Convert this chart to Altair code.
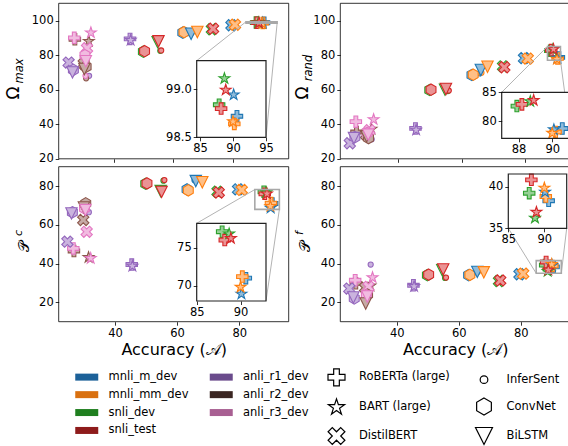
import math
import altair as alt
import pandas as pd

# ---------------- data ----------------
DATASETS = ["mnli_m_dev", "mnli_mm_dev", "snli_dev", "snli_test",
            "anli_r1_dev", "anli_r2_dev", "anli_r3_dev"]
MODELS = ["RoBERTa (large)", "BART (large)", "DistilBERT",
          "InferSent", "ConvNet", "BiLSTM"]
COLORS = ["#1f77b4", "#ff7f0e", "#2ca02c", "#d62728", "#9467bd", "#8c564b", "#e377c2"]
SWATCH = ["#1c6199", "#d9700f", "#1f7f1f", "#8e1b1b", "#6a4b8c", "#3b2622", "#a85f92"]

# accuracy per model, in DATASETS order
ACC_ROBERTA = [90.6, 90.2, 87.9, 88.2, 45.4, 26.8, 26.6]
ACC_BART = [90.1, 90.0, 88.7, 88.9, 45.6, 31.5, 32.2]
ACC_DISTIL = [79.6, 80.8, 73.0, 73.4, 24.7, 29.8, 30.9]
ACC_INFERSENT = [65.6, 66.2, 55.6, 55.9, 31.6, 30.6, 30.4]
ACC_CONVNET = [63.2, 63.6, 49.9, 50.3, 26.3, 30.6, 30.2]
ACC_BILSTM = [66.0, 68.1, 54.7, 55.0, 26.0, 30.0, 30.5]

OMAX_ROBERTA = [98.72, 98.64, 98.84, 98.80, 89.4, 89.2, 90.0]
OMAX_BART = [98.95, 98.67, 99.12, 99.0, 89.0, 88.4, 93.3]
OMAX_DISTIL = [97.3, 97.6, 95.0, 95.3, 75.7, 75.0, 84.0]
OMAX_INFERSENT = [92.6, 92.9, 82.5, 82.7, 68.0, 66.6, 68.0]
OMAX_CONVNET = [93.0, 93.3, 82.0, 82.3, 71.5, 73.3, 80.0]
OMAX_BILSTM = [92.4, 93.4, 87.5, 88.0, 70.0, 72.0, 76.5]

ORAND_ROBERTA = [78.7, 78.1, 82.6, 82.9, 37.6, 35.5, 41.5]
ORAND_BART = [78.6, 78.0, 83.5, 83.7, 37.0, 37.5, 43.1]
ORAND_DISTIL = [78.3, 78.0, 73.5, 73.0, 29.0, 34.0, 36.5]
ORAND_INFERSENT = [69.5, 69.8, 59.2, 59.5, 31.3, 32.5, 33.0]
ORAND_CONVNET = [68.5, 68.7, 59.8, 60.0, 32.5, 32.0, 35.0]
ORAND_BILSTM = [71.4, 73.3, 60.0, 60.4, 32.0, 33.0, 34.0]

PC_ROBERTA = [71.0, 71.2, 77.1, 76.0, 39.5, 46.5, 47.8]
PC_BART = [69.0, 69.9, 76.9, 76.3, 39.0, 43.5, 43.0]
PC_DISTIL = [78.3, 78.0, 77.1, 76.7, 51.3, 62.5, 56.4]
PC_INFERSENT = [83.0, 83.5, 82.8, 83.1, 66.5, 69.5, 68.5]
PC_CONVNET = [78.3, 77.8, 81.2, 81.4, 66.5, 71.1, 68.5]
PC_BILSTM = [82.6, 82.0, 77.4, 77.0, 65.9, 69.0, 67.6]

PF_ROBERTA = [38.3, 38.8, 39.2, 40.8, 28.8, 29.8, 31.4]
PF_BART = [39.4, 39.9, 36.3, 37.0, 28.5, 28.8, 33.1]
PF_DISTIL = [34.5, 34.8, 31.0, 31.3, 27.1, 27.5, 28.0]
PF_INFERSENT = [35.5, 35.8, 32.6, 32.8, 39.5, 25.0, 25.5]
PF_CONVNET = [34.0, 34.2, 34.0, 34.3, 22.0, 24.0, 23.7]
PF_BILSTM = [35.7, 35.5, 36.5, 37.0, 22.5, 19.4, 23.0]

ACC = [ACC_ROBERTA, ACC_BART, ACC_DISTIL, ACC_INFERSENT, ACC_CONVNET, ACC_BILSTM]
OMAX = [OMAX_ROBERTA, OMAX_BART, OMAX_DISTIL, OMAX_INFERSENT, OMAX_CONVNET, OMAX_BILSTM]
ORAND = [ORAND_ROBERTA, ORAND_BART, ORAND_DISTIL, ORAND_INFERSENT, ORAND_CONVNET, ORAND_BILSTM]
PC = [PC_ROBERTA, PC_BART, PC_DISTIL, PC_INFERSENT, PC_CONVNET, PC_BILSTM]
PF = [PF_ROBERTA, PF_BART, PF_DISTIL, PF_INFERSENT, PF_CONVNET, PF_BILSTM]


def table(metric):
    rows = []
    for m, accs, vals in zip(MODELS, ACC, metric):
        for d, a, v in zip(DATASETS, accs, vals):
            rows.append({"model": m, "dataset": d, "acc": a, "val": v})
    return pd.DataFrame(rows)


# ---------------- marker shapes ----------------
def f(v):
    return f"{v:.3f}"


def poly(pts):
    return "M" + "L".join(f"{f(x)},{f(y)}" for x, y in pts) + "Z"


a = 1 / 3
PLUS_PTS = [(-a, -1), (a, -1), (a, -a), (1, -a), (1, a), (a, a), (a, 1), (-a, 1),
            (-a, a), (-1, a), (-1, -a), (-a, -a)]
PLUS = poly(PLUS_PTS)
c45 = math.cos(math.pi / 4) * 1.05
XCROSS = poly([((x - y) * c45, (x + y) * c45) for x, y in PLUS_PTS])
STAR = poly([((1 if i % 2 == 0 else 0.382) * math.cos(-math.pi / 2 + i * math.pi / 5),
              (1 if i % 2 == 0 else 0.382) * math.sin(-math.pi / 2 + i * math.pi / 5) + 0.1)
             for i in range(10)])
HEX = poly([(math.cos(-math.pi / 2 + i * math.pi / 3), math.sin(-math.pi / 2 + i * math.pi / 3))
            for i in range(6)])
TRI = poly([(-1, -1), (1, -1), (0, 1)])
CIRC = "M0.45,0A0.45,0.45,0,1,1,-0.45,0A0.45,0.45,0,1,1,0.45,0Z"
SHAPE_OF = {"RoBERTa (large)": PLUS, "BART (large)": STAR, "DistilBERT": XCROSS,
            "InferSent": CIRC, "ConvNet": HEX, "BiLSTM": TRI}
SHAPE_SCALE = alt.Scale(domain=MODELS, range=[SHAPE_OF[m] for m in MODELS])


def tint(hexc, t=0.5):
    r, g, b = int(hexc[1:3], 16), int(hexc[3:5], 16), int(hexc[5:7], 16)
    return "#%02x%02x%02x" % tuple(int(round(ch * (1 - t) + 255 * t)) for ch in (r, g, b))


FILL_SCALE = alt.Scale(domain=DATASETS, range=[tint(cc) for cc in COLORS])
STROKE_SCALE = alt.Scale(domain=DATASETS, range=COLORS)
LEG_SCALE = alt.Scale(domain=DATASETS, range=SWATCH)

H = 446
MS = 130
FONT = "DejaVu Sans"

PANELS = [
    dict(metric=OMAX, xr=(58.7, 288.7), xd=(21.35, 98.9), yr=(158.8, 3.3), yd=(20, 110),
         yt=[20, 40, 60, 80, 100], xlab=False,
         inset=dict(xr=(196.7, 266.0), xd=(84.5, 95.0), yr=(137.3, 60.7), yd=(98.5, 99.3),
                    xt=[85, 90, 95], yt=[98.5, 99.0], yfmt=".1f", corners=("ul", "lr"))),
    dict(metric=ORAND, xr=(340.3, 570.3), xd=(21.7, 94.2), yr=(158.8, 3.3), yd=(20, 110),
         yt=[20, 40, 60, 80, 100], xlab=False,
         inset=dict(xr=(501.7, 570.7), xd=(87.0, 91.1), yr=(138.3, 92.3), yd=(77, 85),
                    xt=[88, 90], yt=[80, 85], yfmt="d", corners=("ul", "lr"))),
    dict(metric=PC, xr=(58.7, 288.7), xd=(21.9, 95.9), yr=(321.7, 166.7), yd=(10, 90),
         yt=[20, 40, 60, 80], xlab=True,
         inset=dict(xr=(196.7, 266.0), xd=(85.0, 92.9), yr=(301.0, 223.3), yd=(68, 78.2),
                    xt=[85, 90], yt=[70, 75], yfmt="d", corners=("ul", "lr"))),
    dict(metric=PF, xr=(340.3, 570.3), xd=(21.8, 96.0), yr=(321.7, 166.7), yd=(10, 90),
         yt=[20, 40, 60, 80], xlab=True,
         inset=dict(xr=(508.3, 566.7), xd=(85.0, 93.1), yr=(228.3, 174.0), yd=(35, 41.5),
                    xt=[85, 90], yt=[35, 40], yfmt="d", corners=("ll", "lr"))),
]

AXIS_STYLE = dict(domain=False, grid=False, tickSize=3.5, tickWidth=0.8, tickColor="black",
                  labelFontSize=11.5, labelFont=FONT, labelColor="black", labelPadding=2,
                  labelFlush=False, labelOverlap=False, zindex=1)


def sc(dom, rng):
    return alt.Scale(domain=list(dom), range=list(rng), nice=False, zero=False)


def points(df, xd, xr, yd, yr, xaxis, yaxis):
    return alt.Chart(df).mark_point(filled=True, size=MS, strokeWidth=1.1, opacity=1).encode(
        x=alt.X("acc:Q", scale=sc(xd, xr), axis=xaxis),
        y=alt.Y("val:Q", scale=sc(yd, yr), axis=yaxis),
        fill=alt.Fill("dataset:N", scale=FILL_SCALE, legend=None),
        stroke=alt.Stroke("dataset:N", scale=STROKE_SCALE, legend=None),
        shape=alt.Shape("model:N", scale=SHAPE_SCALE, legend=None),
    )


def box(x0, x1, y0, y1, xd, xr, yd, yr, stroke, sw, fill="transparent"):
    df = pd.DataFrame({"x0": [x0], "x1": [x1], "y0": [y0], "y1": [y1]})
    return alt.Chart(df).mark_rect(fill=fill, stroke=stroke, strokeWidth=sw).encode(
        x=alt.X("x0:Q", scale=sc(xd, xr), axis=None), x2="x1",
        y=alt.Y("y0:Q", scale=sc(yd, yr), axis=None), y2="y1")


def lin(v, r, d):
    return d[0] + (v - r[0]) / (r[1] - r[0]) * (d[1] - d[0])


# legends (driven by an invisible layer) -- first, so its legend settings win
leg_df = pd.DataFrame({"dataset": DATASETS[:6], "model": MODELS})
RECT = "M-1,-1H5.57V1H-1Z"
legend_layer = alt.Chart(leg_df).mark_point(filled=True).encode(
    color=alt.Color("dataset:N", scale=LEG_SCALE, legend=alt.Legend(
        orient="none", legendX=73, legendY=371, columns=2, title=None,
        symbolType=RECT, symbolSize=49, symbolStrokeWidth=0, symbolOpacity=1,
        labelFont=FONT, labelFontSize=11.5, labelColor="black", labelOffset=24,
        rowPadding=4.9, columnPadding=18.5, padding=0, labelLimit=0)),
    shape=alt.Shape("model:N", scale=SHAPE_SCALE, legend=alt.Legend(
        orient="none", legendX=327, legendY=367.5, columns=2, title=None,
        symbolSize=289, symbolStrokeWidth=1.2, symbolStrokeColor="black",
        symbolFillColor="white", symbolOpacity=1,
        labelFont=FONT, labelFontSize=11.5, labelColor="black", labelOffset=13,
        rowPadding=6.5, columnPadding=22.5, padding=0, labelLimit=0)),
    opacity=alt.value(0),
)

layers = [legend_layer]
for p in PANELS:
    xd, xr, yd, yr = p["xd"], p["xr"], p["yd"], p["yr"]
    df = table(p["metric"])
    xaxis = alt.Axis(orient="bottom", offset=yr[0] - H, values=[40, 60, 80],
                     labels=p["xlab"], title="Accuracy (𝒜)" if p["xlab"] else None,
                     titleFontSize=16, titleFont=FONT, titleFontWeight="normal",
                     titleColor="black", titlePadding=3, **AXIS_STYLE)
    yaxis = alt.Axis(orient="left", offset=-xr[0], values=p["yt"], title=None, **AXIS_STYLE)
    ins = p["inset"]
    cx = {"ul": (ins["xr"][0], ins["yr"][1]), "lr": (ins["xr"][1], ins["yr"][0]),
          "ll": (ins["xr"][0], ins["yr"][0])}
    rc = {"ul": (ins["xd"][0], ins["yd"][1]), "lr": (ins["xd"][1], ins["yd"][0]),
          "ll": (ins["xd"][0], ins["yd"][0])}
    conn = pd.DataFrame([{"x": rc[k][0], "y": rc[k][1],
                          "x2": lin(cx[k][0], xr, xd),
                          "y2": lin(cx[k][1], yr, yd)} for k in ins["corners"]])
    layers.append(points(df, xd, xr, yd, yr, xaxis, yaxis))
    layers.append(alt.Chart(conn).mark_rule(color="#b3b3b3", strokeWidth=1).encode(
        x=alt.X("x:Q", scale=sc(xd, xr), axis=None), x2="x2",
        y=alt.Y("y:Q", scale=sc(yd, yr), axis=None), y2="y2"))
    layers.append(box(ins["xd"][0], ins["xd"][1], ins["yd"][0], ins["yd"][1],
                      xd, xr, yd, yr, "#a8a8a8", 1.6))
    layers.append(box(xd[0], xd[1], yd[0], yd[1], xd, xr, yd, yr, "black", 0.8))

    ixd, ixr, iyd, iyr = ins["xd"], ins["xr"], ins["yd"], ins["yr"]
    sub = df[(df.acc >= ixd[0]) & (df.acc <= ixd[1]) & (df.val >= iyd[0]) & (df.val <= iyd[1])]
    ixaxis = alt.Axis(orient="bottom", offset=iyr[0] - H, values=ins["xt"], title=None,
                      **AXIS_STYLE)
    iyaxis = alt.Axis(orient="left", offset=-ixr[0], values=ins["yt"], title=None,
                      format=ins["yfmt"], **AXIS_STYLE)
    layers.append(box(ixd[0], ixd[1], iyd[0], iyd[1], ixd, ixr, iyd, iyr, "white", 0, "white"))
    layers.append(points(sub, ixd, ixr, iyd, iyr, ixaxis, iyaxis))
    layers.append(box(ixd[0], ixd[1], iyd[0], iyd[1], ixd, ixr, iyd, iyr, "#222222", 1.2))

# y-axis labels (text)
LABELS = [
    ("Ω", 13.5, 93, 17, "normal"), ("max", 19.5, 71, 11.5, "italic"),
    ("Ω", 302.5, 93, 17, "normal"), ("rand", 308.5, 68, 11.5, "italic"),
    ("𝒫", 24, 246, 15, "normal"), ("c", 19, 233, 11, "italic"),
    ("𝒫", 305, 246, 15, "normal"), ("f", 300, 233, 11, "italic"),
]
for txt, x, y, fs, st in LABELS:
    layers.append(alt.Chart(pd.DataFrame({"t": [txt]})).mark_text(
        angle=270, align="center", baseline="middle", font=FONT, fontSize=fs,
        fontStyle=st, color="black").encode(x=alt.value(x), y=alt.value(y), text="t:N"))

chart = alt.layer(*layers).resolve_scale(x="independent", y="independent").properties(
    width=568, height=446, padding=0, autosize=alt.AutoSizeParams(type="none"),
).configure_view(stroke=None).configure_legend(
    symbolFillColor="white", symbolStrokeColor="black")

chart.save("out.html", embed_options={"renderer": "svg", "actions": False})
